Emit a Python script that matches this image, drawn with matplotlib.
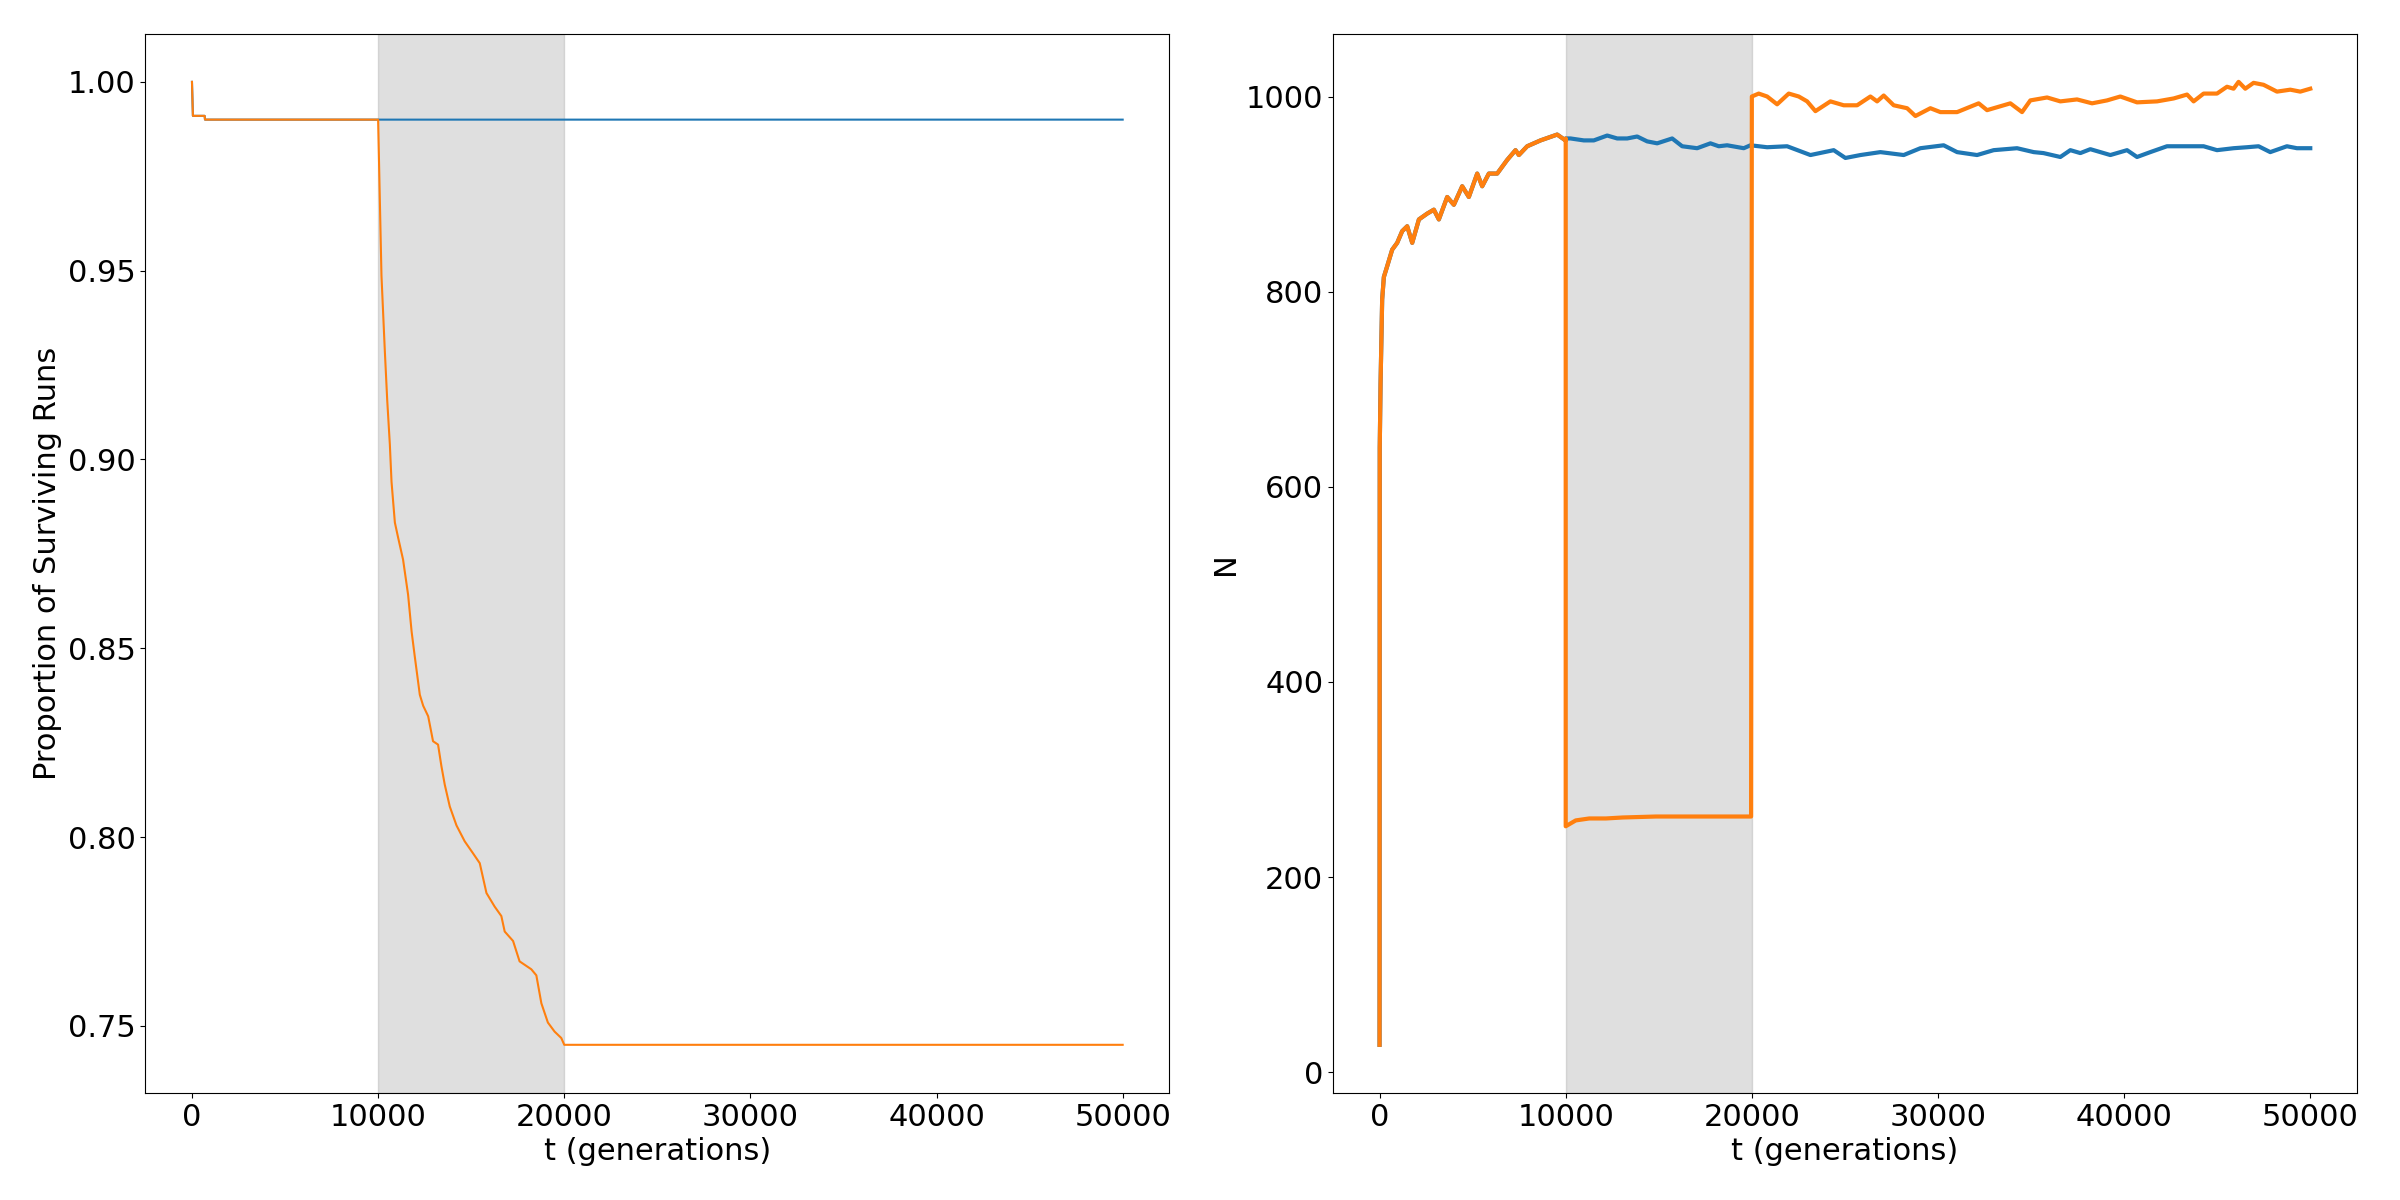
import matplotlib
matplotlib.use("Agg")
import matplotlib.pyplot as plt
import numpy as np

# ---------------- data ----------------
# Left panel: proportion of surviving runs
surv_blue_t = [0, 50, 680, 700, 50000]
surv_blue_v = [1.000, 0.991, 0.991, 0.990, 0.990]

surv_orange_t = [0, 50, 680, 700, 10000, 10180, 10360, 10490, 10630, 10720, 10900,
                 11080, 11340, 11610, 11800, 11970, 12240, 12420, 12690, 12950,
                 13220, 13400, 13580, 13850, 14210, 14650, 15100, 15460, 15820,
                 16260, 16620, 16800, 17250, 17600, 18230, 18500, 18770, 19120,
                 19480, 19840, 20000, 50000]
surv_orange_v = [1.000, 0.991, 0.991, 0.990, 0.990, 0.9487, 0.9288, 0.9156, 0.9040,
                 0.8941, 0.8833, 0.8792, 0.8735, 0.8642, 0.8544, 0.8478, 0.8377,
                 0.8348, 0.8320, 0.8254, 0.8245, 0.8188, 0.8139, 0.8081, 0.8031,
                 0.7989, 0.7957, 0.7931, 0.7852, 0.7816, 0.7791, 0.7750, 0.7725,
                 0.7671, 0.7650, 0.7634, 0.7560, 0.7509, 0.7485, 0.7468, 0.745, 0.745]

# Right panel: population size N (shared rise before t = 10000)
rise_t = [0, 10, 54, 140, 231, 409, 678, 947, 1216, 1485, 1754, 2114, 2561, 2917,
          3186, 3634, 3992, 4440, 4797, 5246, 5514, 5872, 6320, 6857, 7304, 7484,
          7932, 8647, 9542, 9990]
rise_v = [28, 640, 706, 792, 815, 826, 843, 850, 862, 867, 850, 874, 880, 884, 874,
          897, 889, 908, 897, 921, 908, 921, 921, 935, 945, 940, 949, 955, 961, 955]

blue_t = [10000, 10258, 10973, 11510, 12229, 12766, 13303, 13840, 14377, 14914,
          15720, 16257, 17062, 17776, 18223, 18673, 19565, 19925, 20821, 21895,
          23147, 24398, 25027, 25833, 26907, 28158, 29055, 30306, 31026, 32100,
          32991, 34248, 35142, 35668, 36574, 37111, 37648, 38185, 39259, 40157,
          40693, 41407, 42302, 43381, 44270, 44989, 45881, 46600, 47223, 47850,
          48745, 49283, 50000]
blue_v = [957, 957, 955, 955, 960, 957, 957, 959, 954, 952, 957, 949, 947, 952, 949,
          950, 947, 950, 948, 949, 940, 945, 937, 940, 943, 940, 947, 950, 943, 940,
          945, 947, 943, 942, 938, 945, 942, 946, 940, 945, 938, 943, 949, 949, 949,
          945, 947, 948, 949, 943, 949, 947, 947]

orange_t = [10000, 10000, 10540, 11262, 12160, 13055, 14850, 16820, 18260, 19960,
            20000, 20370, 20821, 21359, 21982, 22520, 22971, 23416, 24221, 24937,
            25656, 26370, 26730, 27084, 27621, 28341, 28787, 29592, 30129, 31026,
            32186, 32637, 33351, 33888, 34516, 34962, 35862, 36574, 37471, 38277,
            39082, 39796, 40693, 41767, 42661, 43381, 43733, 44270, 44989, 45526,
            45881, 46149, 46509, 46954, 47491, 48211, 48926, 49463, 50000]
orange_v = [957, 252, 258, 260, 260, 261, 262, 262, 262, 262,
            1000, 1003, 1000, 992, 1003, 1000, 995, 985, 995, 991,
            991, 1000, 995, 1001, 991, 988, 980, 988, 984, 984,
            993, 986, 990, 993, 984, 996, 999, 995, 997, 993,
            996, 1000, 994, 995, 998, 1002, 995, 1003, 1003, 1010,
            1008, 1015, 1008, 1014, 1012, 1005, 1007, 1005, 1008]

shade_start, shade_end = 10000, 20000

# ---------------- plotting ----------------
plt.rcParams['font.size'] = 22
fig, (ax1, ax2) = plt.subplots(1, 2, figsize=(24, 12), dpi=100)
fig.subplots_adjust(left=0.0606, right=0.982, bottom=0.0892, top=0.9719, wspace=0.16)

blue = '#1f77b4'
orange = '#ff7f0e'

ax1.plot(surv_blue_t, surv_blue_v, color=blue, lw=1.5)
ax1.plot(surv_orange_t, surv_orange_v, color=orange, lw=1.5)
ax1.axvspan(shade_start, shade_end, color='grey', alpha=0.25)
ax1.set_xlabel('t (generations)')
ax1.set_ylabel('Proportion of Surviving Runs')
ax1.set_yticks([0.75, 0.80, 0.85, 0.90, 0.95, 1.00])

ax2.plot(rise_t + blue_t, rise_v + blue_v, color=blue, lw=3)
ax2.plot(rise_t + orange_t, rise_v + orange_v, color=orange, lw=3)
ax2.axvspan(shade_start, shade_end, color='grey', alpha=0.25)
ax2.set_xlabel('t (generations)')
ax2.set_ylabel('N')

for ax in (ax1, ax2):
    ax.set_xticks([0, 10000, 20000, 30000, 40000, 50000])

fig.savefig('out.png', dpi=100)
